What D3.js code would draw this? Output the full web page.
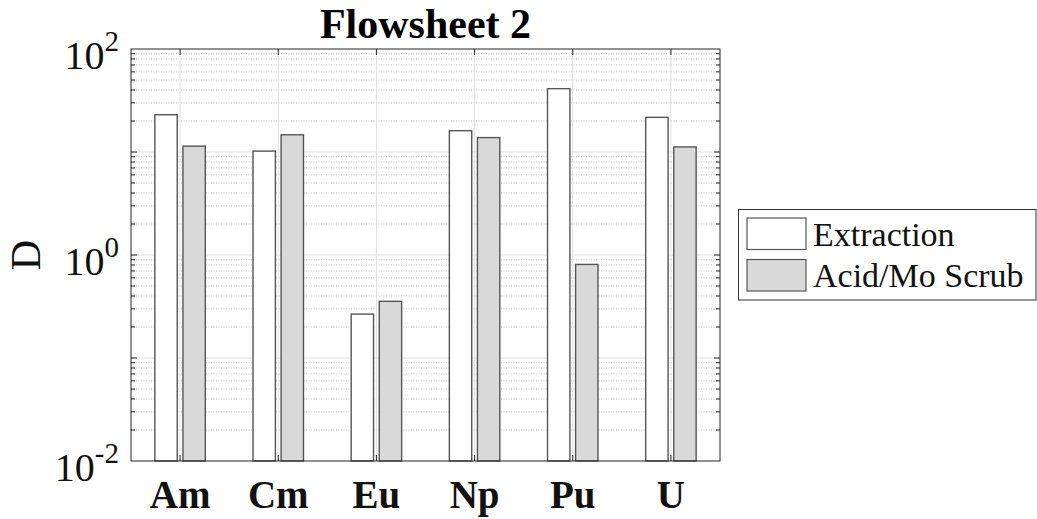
<!DOCTYPE html>
<html>
<head>
<meta charset="utf-8">
<script src="https://cdn.jsdelivr.net/npm/d3@7"></script>
<style>
html,body{margin:0;padding:0;background:#fff;}
svg{display:block;}
text{font-family:"Liberation Serif","Times New Roman",serif;}
</style>
</head>
<body>
<svg id="chart" width="1037" height="519"></svg>
<script>
const categories = ["Am", "Cm", "Eu", "Np", "Pu", "U"];
const seriesNames = ["Extraction", "Acid/Mo Scrub"];
const extraction = [23.0, 10.2, 0.267, 16.1, 41.2, 21.7];
const acidMoScrub = [11.4, 14.7, 0.355, 13.8, 0.81, 11.2];
const yTickExponents = [-2, 0, 2];
const titleText = "Flowsheet 2";
const yLabelText = "D";

const seriesValues = [extraction, acidMoScrub];
const seriesFill = ["#ffffff", "#d9d9d9"];

const svg = d3.select("#chart");
const L = 131, R = 720, T = 49, B = 461;
const axisColor = "#262626";

const x = d3.scaleBand().domain(categories).range([L, R]).paddingInner(0).paddingOuter(0);
const bw = x.bandwidth();
const xSub = d3.scaleBand().domain(seriesNames).range([-0.257 * bw, 0.257 * bw]).paddingInner(0.203).paddingOuter(0);
const y = d3.scaleLog().domain([0.01, 100]).range([B, T]);

// grid
const grid = svg.append("g");
const minorVals = [];
const majorVals = [];
for (let e = -2; e < 2; e++) {
  for (let m = 2; m <= 9; m++) minorVals.push(m * Math.pow(10, e));
  if (e > -2) majorVals.push(Math.pow(10, e));
}
grid.selectAll("line.minor").data(minorVals).enter().append("line")
  .attr("x1", L).attr("x2", R)
  .attr("y1", d => y(d)).attr("y2", d => y(d))
  .attr("stroke", "#c4c4c4").attr("stroke-width", 1).attr("stroke-dasharray", "1,1.5");
grid.selectAll("line.major").data(majorVals).enter().append("line")
  .attr("x1", L).attr("x2", R)
  .attr("y1", d => y(d)).attr("y2", d => y(d))
  .attr("stroke", "#e0e0e0").attr("stroke-width", 1);
grid.selectAll("line.vg").data(categories).enter().append("line")
  .attr("x1", d => x(d) + bw / 2).attr("x2", d => x(d) + bw / 2)
  .attr("y1", T).attr("y2", B)
  .attr("stroke", "#e0e0e0").attr("stroke-width", 1);

// bars
const bars = svg.append("g");
seriesNames.forEach((s, si) => {
  bars.selectAll("rect.s" + si).data(categories).enter().append("rect")
    .attr("x", d => x(d) + bw / 2 + xSub(s))
    .attr("width", xSub.bandwidth())
    .attr("y", (d, i) => y(seriesValues[si][i]))
    .attr("height", (d, i) => B - y(seriesValues[si][i]))
    .attr("fill", seriesFill[si])
    .attr("stroke", "#555555").attr("stroke-width", 1.4);
});

// axes box
const ax = svg.append("g");
ax.append("rect").attr("x", L).attr("y", T).attr("width", R - L).attr("height", B - T)
  .attr("fill", "none").attr("stroke", axisColor).attr("stroke-width", 1);

// y ticks (left & right, inward)
const tickG = ax.append("g").attr("stroke", axisColor).attr("stroke-width", 1);
[L, R].forEach(xx => {
  const dir = xx === L ? 1 : -1;
  tickG.selectAll(null).data(minorVals).enter().append("line")
    .attr("x1", xx).attr("x2", xx + dir * 4)
    .attr("y1", d => y(d)).attr("y2", d => y(d));
  tickG.selectAll(null).data(majorVals).enter().append("line")
    .attr("x1", xx).attr("x2", xx + dir * 6)
    .attr("y1", d => y(d)).attr("y2", d => y(d));
});
// x ticks (top & bottom, inward)
tickG.selectAll(null).data(categories).enter().append("line")
  .attr("x1", d => x(d) + bw / 2).attr("x2", d => x(d) + bw / 2)
  .attr("y1", T).attr("y2", T + 6);
tickG.selectAll(null).data(categories).enter().append("line")
  .attr("x1", d => x(d) + bw / 2).attr("x2", d => x(d) + bw / 2)
  .attr("y1", B).attr("y2", B - 6);

// y tick labels
const yl = svg.append("g");
yTickExponents.forEach(e => {
  const t = yl.append("text")
    .attr("x", 119).attr("y", y(Math.pow(10, e)) + 20)
    .attr("text-anchor", "end").attr("fill", "#111").attr("font-size", 40);
  t.append("tspan").text("10");
  t.append("tspan").attr("dy", -18).attr("font-size", 29).text(String(e));
});

// x tick labels
svg.append("g").selectAll("text").data(categories).enter().append("text")
  .attr("x", d => x(d) + bw / 2).attr("y", 508)
  .attr("text-anchor", "middle").attr("font-weight", "bold").attr("font-size", 39)
  .attr("fill", "#111").text(d => d);

// title
svg.append("text").attr("x", (L + R) / 2).attr("y", 38)
  .attr("text-anchor", "middle").attr("font-weight", "bold").attr("font-size", 42)
  .attr("fill", "#000").text(titleText);

// y label
svg.append("text").attr("transform", `translate(40,${(T + B) / 2}) rotate(-90)`)
  .attr("text-anchor", "middle").attr("font-size", 42).attr("fill", "#111").text(yLabelText);

// legend
const lg = svg.append("g");
lg.append("rect").attr("x", 738.5).attr("y", 209.5).attr("width", 297.5).attr("height", 90.5)
  .attr("fill", "#fff").attr("stroke", "#333").attr("stroke-width", 1);
seriesNames.forEach((s, i) => {
  lg.append("rect").attr("x", 747).attr("y", 218 + i * 41.5).attr("width", 59).attr("height", 31.5)
    .attr("fill", seriesFill[i]).attr("stroke", "#555").attr("stroke-width", 1.2);
  lg.append("text").attr("x", 813).attr("y", 246 + i * 41)
    .attr("font-size", 34).attr("fill", "#111").text(s);
});
</script>
</body>
</html>
